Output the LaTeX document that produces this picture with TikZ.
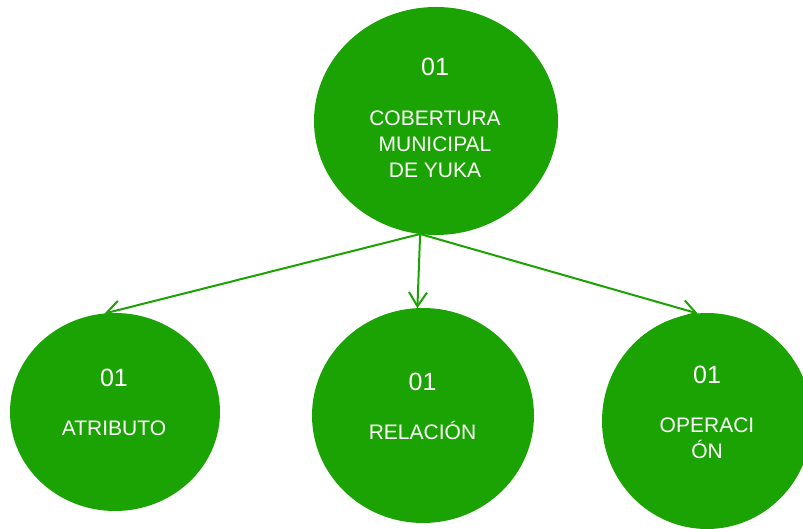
\documentclass[tikz,border=0pt]{standalone}
\usepackage{fontspec}
\setmainfont{Liberation Sans}
\usetikzlibrary{shapes.geometric,arrows.meta}
\definecolor{yukagreen}{RGB}{26,163,3}

\begin{document}
\begin{tikzpicture}[x=1pt,y=-1pt,
        bubble/.style={ellipse, fill=yukagreen, inner sep=0pt, outer sep=0pt},
        num/.style={text=white, anchor=base, inner sep=0pt, font=\fontsize{25}{29}\selectfont},
        txt/.style={text=white, anchor=base, inner sep=0pt, align=center, font=\fontsize{21}{26}\selectfont},
        link/.style={draw=yukagreen, line width=2pt, -{Straight Barb[length=14pt,width=18pt]}}]
        \useasboundingbox (0,0) rectangle (803,529);

        % Draw the circles
        \node[bubble, minimum width=244pt, minimum height=228pt] (cobertura) at (436,121) {};
        \node[bubble, minimum width=210pt, minimum height=198pt] (atributo) at (115,412) {};
        \node[bubble, minimum width=222pt, minimum height=215pt] (relacion) at (423,415.5) {};
        \node[bubble, minimum width=210pt, minimum height=216pt] (operacion) at (707,421) {};

        % Labels for the top circle
        \node[num] (cobnum) at (435,76) {01};
        \node[txt, anchor=center] (cobtxt) at (435,144) {COBERTURA\\MUNICIPAL\\DE YUKA};

        % Labels for the lower circles
        \node[num] (atrnum) at (114,386) {01};
        \node[txt] (atrtxt) at (114,435) {ATRIBUTO};
        \node[num] (relnum) at (422.5,390) {01};
        \node[txt] (reltxt) at (422.5,439) {RELACIÓN};
        \node[num] (openum) at (707,383.5) {01};
        \node[txt, anchor=center] (opetxt) at (707,438) {OPERACI\\ÓN};

        % Draw the arrows
        \draw[link] (cobertura.262) -- (atributo.96);
        \draw[link] (cobertura.262) -- (relacion.93);
        \draw[link] (cobertura.262) -- (operacion.95);
    \end{tikzpicture}
\end{document}
